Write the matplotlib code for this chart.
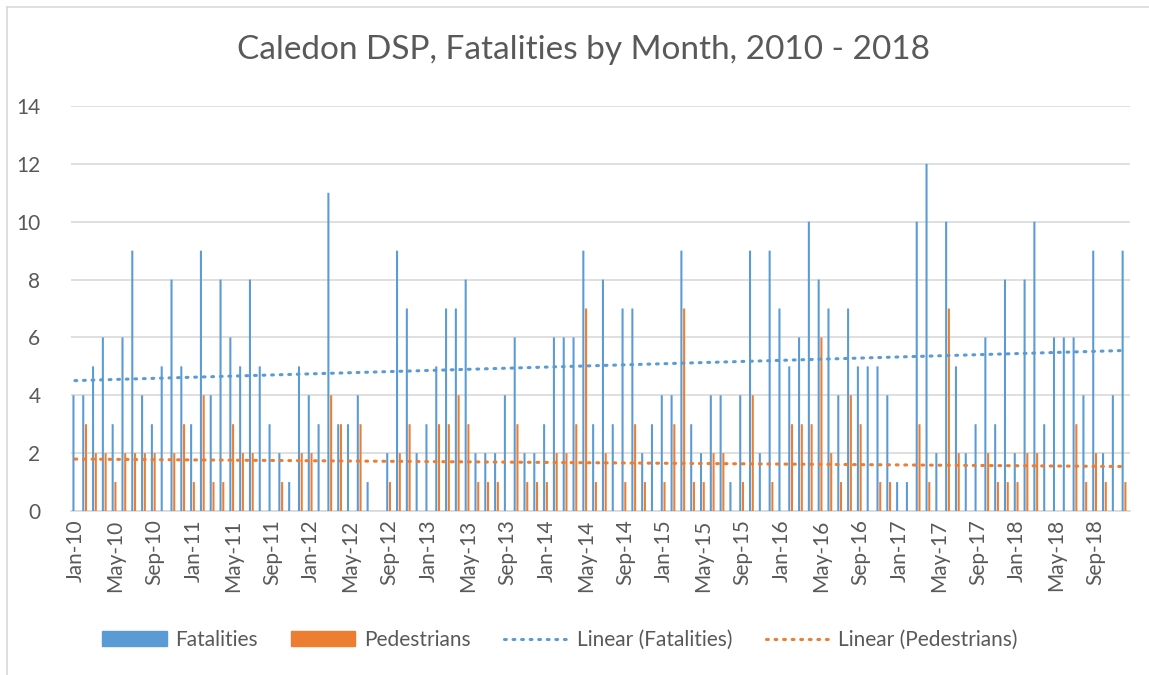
import matplotlib
matplotlib.use("Agg")
import matplotlib.pyplot as plt
import numpy as np
from matplotlib.patches import Patch
from matplotlib.lines import Line2D

months = [f"{m}-{y:02d}" for y in range(10, 19)
          for m in ["Jan", "Feb", "Mar", "Apr", "May", "Jun",
                    "Jul", "Aug", "Sep", "Oct", "Nov", "Dec"]]

fatalities = [4, 4, 5, 6, 3, 6, 9, 4, 3, 5, 8, 5,
              3, 9, 4, 8, 6, 5, 8, 5, 3, 2, 1, 5,
              4, 3, 11, 3, 3, 4, 1, 0, 2, 9, 7, 2,
              3, 5, 7, 7, 8, 2, 2, 2, 4, 6, 2, 2,
              3, 6, 6, 6, 9, 3, 8, 3, 7, 7, 2, 3,
              4, 4, 9, 3, 2, 4, 4, 1, 4, 9, 2, 9,
              7, 5, 6, 10, 8, 7, 4, 7, 5, 5, 5, 4,
              1, 1, 10, 12, 2, 10, 5, 2, 3, 6, 3, 8,
              2, 8, 10, 3, 6, 6, 6, 4, 9, 2, 4, 9]

pedestrians = [0, 3, 2, 2, 1, 2, 2, 2, 2, 0, 2, 3,
               1, 4, 1, 1, 3, 2, 2, 0, 0, 1, 0, 2,
               2, 0, 4, 3, 0, 3, 0, 0, 1, 2, 3, 0,
               0, 3, 3, 4, 3, 1, 1, 1, 0, 3, 1, 1,
               1, 2, 2, 3, 7, 1, 2, 0, 1, 3, 1, 0,
               1, 3, 7, 1, 1, 2, 2, 0, 1, 4, 0, 1,
               0, 3, 3, 3, 6, 2, 1, 4, 3, 0, 1, 1,
               0, 0, 3, 1, 0, 7, 2, 0, 0, 2, 1, 1,
               1, 2, 2, 0, 0, 0, 3, 1, 2, 1, 0, 1]

BLUE = "#5B9BD5"
ORANGE = "#ED7D31"
TXT = "#595959"
GRID = "#D9D9D9"

plt.rcParams['font.family'] = ['Lato', 'DejaVu Sans']

W, H = 1149, 675
fig = plt.figure(figsize=(W / 100, H / 100), dpi=100)
ax = fig.add_axes([71 / W, 1 - 511 / H, (1130 - 71) / W, (511 - 106) / H])

x = np.arange(len(months))
ax.bar(x - 0.25, fatalities, width=0.21, color=BLUE, lw=0, snap=False, zorder=3)
ax.bar(x + 0.03, pedestrians, width=0.21, color=ORANGE, lw=0, snap=False, zorder=3)

# linear trendlines (least squares on month index 1..n)
t = np.arange(1, len(months) + 1)
cf = np.polyfit(t, fatalities, 1)
cp = np.polyfit(t, pedestrians, 1)
dots = (0, (0.6, 2.2))
ax.plot(x - 0.1, np.polyval(cf, t), color=BLUE, lw=2.2, ls=dots,
        dash_capstyle='round', zorder=4)
ax.plot(x - 0.1, np.polyval(cp, t), color=ORANGE, lw=2.2, ls=dots,
        dash_capstyle='round', zorder=4)

ax.set_xlim(-0.5, len(months) - 0.5)
ax.set_ylim(0, 14)
ax.set_yticks(range(0, 15, 2))
ax.set_xticks(x[::4])
ax.set_xticklabels(months[::4], rotation=90)
ax.tick_params(axis='both', length=0, colors=TXT, labelsize=15)
ax.tick_params(axis='x', pad=6)
ax.tick_params(axis='y', pad=22)
ax.grid(axis='y', color=GRID, lw=1.2, zorder=0)
for s in ['top', 'right', 'left']:
    ax.spines[s].set_visible(False)
ax.spines['bottom'].set_color(GRID)
ax.spines['bottom'].set_linewidth(1.2)

fig.text(583 / W, 1 - 50 / H, "Caledon DSP, Fatalities by Month, 2010 - 2018",
         ha='center', va='center', fontsize=24, color=TXT)

handles = [Patch(color=BLUE), Patch(color=ORANGE),
           Line2D([], [], color=BLUE, lw=2.2, ls=dots, dash_capstyle='round'),
           Line2D([], [], color=ORANGE, lw=2.2, ls=dots, dash_capstyle='round')]
labels = ["Fatalities", "Pedestrians", "Linear (Fatalities)", "Linear (Pedestrians)"]
fig.legend(handles, labels, loc='center', bbox_to_anchor=(560 / W, 1 - 640 / H),
           ncol=4, frameon=False, fontsize=15, labelcolor=TXT,
           handlelength=3.1, handleheight=0.7, handletextpad=0.4, columnspacing=1.6)

# chart area border (left and top visible)
fig.add_artist(Line2D([7 / W, 7 / W], [0, 1 - 7 / H], transform=fig.transFigure,
                      color=GRID, lw=1.2))
fig.add_artist(Line2D([7 / W, 1], [1 - 7 / H, 1 - 7 / H], transform=fig.transFigure,
                      color=GRID, lw=1.2))

fig.savefig("out.png", dpi=100)
